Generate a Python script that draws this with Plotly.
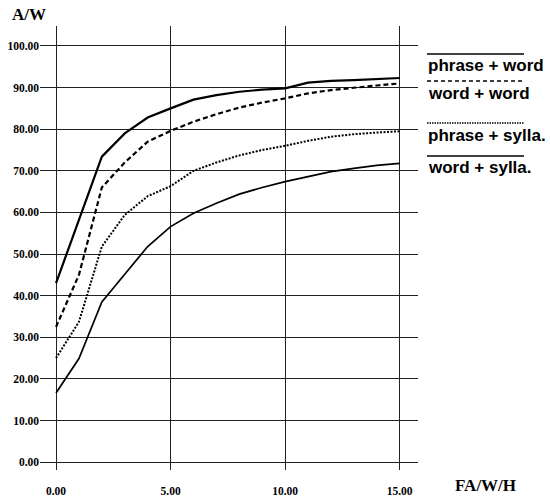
import plotly.graph_objects as go

# ---- data ----
fa_w_h = [0, 1, 2, 3, 4, 5, 6, 7, 8, 9, 10, 11, 12, 13, 14, 15]
phrase_word = [43.0, 58.2, 73.4, 79.0, 82.8, 85.0, 87.1, 88.2, 89.0, 89.5, 89.8, 91.2, 91.6, 91.8, 92.0, 92.3]
word_word = [32.5, 45.0, 66.0, 72.0, 77.0, 79.6, 81.8, 83.6, 85.2, 86.4, 87.4, 88.6, 89.4, 90.0, 90.5, 91.0]
phrase_sylla = [25.0, 33.7, 51.8, 59.4, 63.9, 66.3, 70.0, 72.0, 73.7, 75.0, 76.0, 77.2, 78.2, 78.8, 79.2, 79.5]
word_sylla = [16.6, 24.9, 38.5, 45.2, 51.8, 56.6, 59.8, 62.2, 64.4, 66.0, 67.4, 68.6, 69.8, 70.6, 71.3, 71.8]

series_names = ["phrase + word", "word + word", "phrase + sylla.", "word + sylla."]
x_ticks = [0, 5, 10, 15]
y_ticks = [0, 10, 20, 30, 40, 50, 60, 70, 80, 90, 100]
x_title = "FA/W/H"
y_title = "A/W"

# ---- figure ----
W, H = 550, 497
L, R, T, B = 40, 132, 26, 27
plot_w = W - L - R
plot_h = H - T - B

def px_x(p):
    return (p - L) / plot_w

def px_y(p):
    return (H - B - p) / plot_h

styles = [
    dict(color="black", width=2.2, dash="solid"),
    dict(color="black", width=2.2, dash="5px,3px"),
    dict(color="black", width=2.0, dash="2px,1.5px"),
    dict(color="black", width=1.7, dash="solid"),
]
series = [phrase_word, word_word, phrase_sylla, word_sylla]

fig = go.Figure()
for name, ys, st in zip(series_names, series, styles):
    fig.add_trace(go.Scatter(x=fa_w_h, y=ys, mode="lines", name=name,
                             line=st, showlegend=False, hoverinfo="skip"))

serif = "Liberation Serif, Times New Roman, serif"
sans = "Liberation Sans, Arial, Helvetica, sans-serif"

fig.update_layout(
    width=W, height=H,
    margin=dict(l=L, r=R, t=T, b=B, autoexpand=False),
    paper_bgcolor="white", plot_bgcolor="white",
    xaxis=dict(range=[-0.7, 15.8], tickvals=x_ticks, tickformat=".2f",
               showgrid=True, gridcolor="#222", gridwidth=1, zeroline=False,
               showline=False, ticks="", ticklabelstandoff=12, automargin=False,
               tickfont=dict(family=serif, size=11.5, color="black", weight="bold")),
    yaxis=dict(range=[-1.9, 104.8], tickvals=y_ticks, tickformat=".2f",
               showgrid=True, gridcolor="#222", gridwidth=1, zeroline=False,
               showline=False, ticks="", automargin=False,
               tickfont=dict(family=serif, size=11.5, color="black", weight="bold")),
)

# axis titles
fig.add_annotation(text="<b>" + y_title + "</b>", xref="paper", yref="paper",
                   x=px_x(10), y=px_y(15), xanchor="left", yanchor="middle",
                   showarrow=False, font=dict(family=serif, size=17, color="black"))
fig.add_annotation(text="<b>" + x_title + "</b>", xref="paper", yref="paper",
                   x=px_x(453), y=px_y(485), xanchor="left", yanchor="middle",
                   showarrow=False, font=dict(family=serif, size=17, color="black"))

# legend (manual, to the right of the plot)
line_y = [54, 81, 123, 156]
text_y = [65, 93, 135, 167]
leg_styles = [
    dict(color="black", width=1.5, dash="solid"),
    dict(color="black", width=1.3, dash="4px,3px"),
    dict(color="black", width=1.4, dash="1.5px,1px"),
    dict(color="black", width=1.5, dash="solid"),
]
for name, ly, ty, st in zip(series_names, line_y, text_y, leg_styles):
    fig.add_shape(type="line", xref="paper", yref="paper",
                  x0=px_x(427), x1=px_x(524), y0=px_y(ly), y1=px_y(ly), line=st)
    fig.add_annotation(text="<b>" + name + "</b>", xref="paper", yref="paper",
                       x=px_x(426), y=px_y(ty), xanchor="left", yanchor="middle",
                       showarrow=False, font=dict(family=sans, size=17, color="black"))

fig.write_html("out.html", config={"displayModeBar": False},
               post_script="document.body.style.margin='0px';document.body.style.padding='0px';")
